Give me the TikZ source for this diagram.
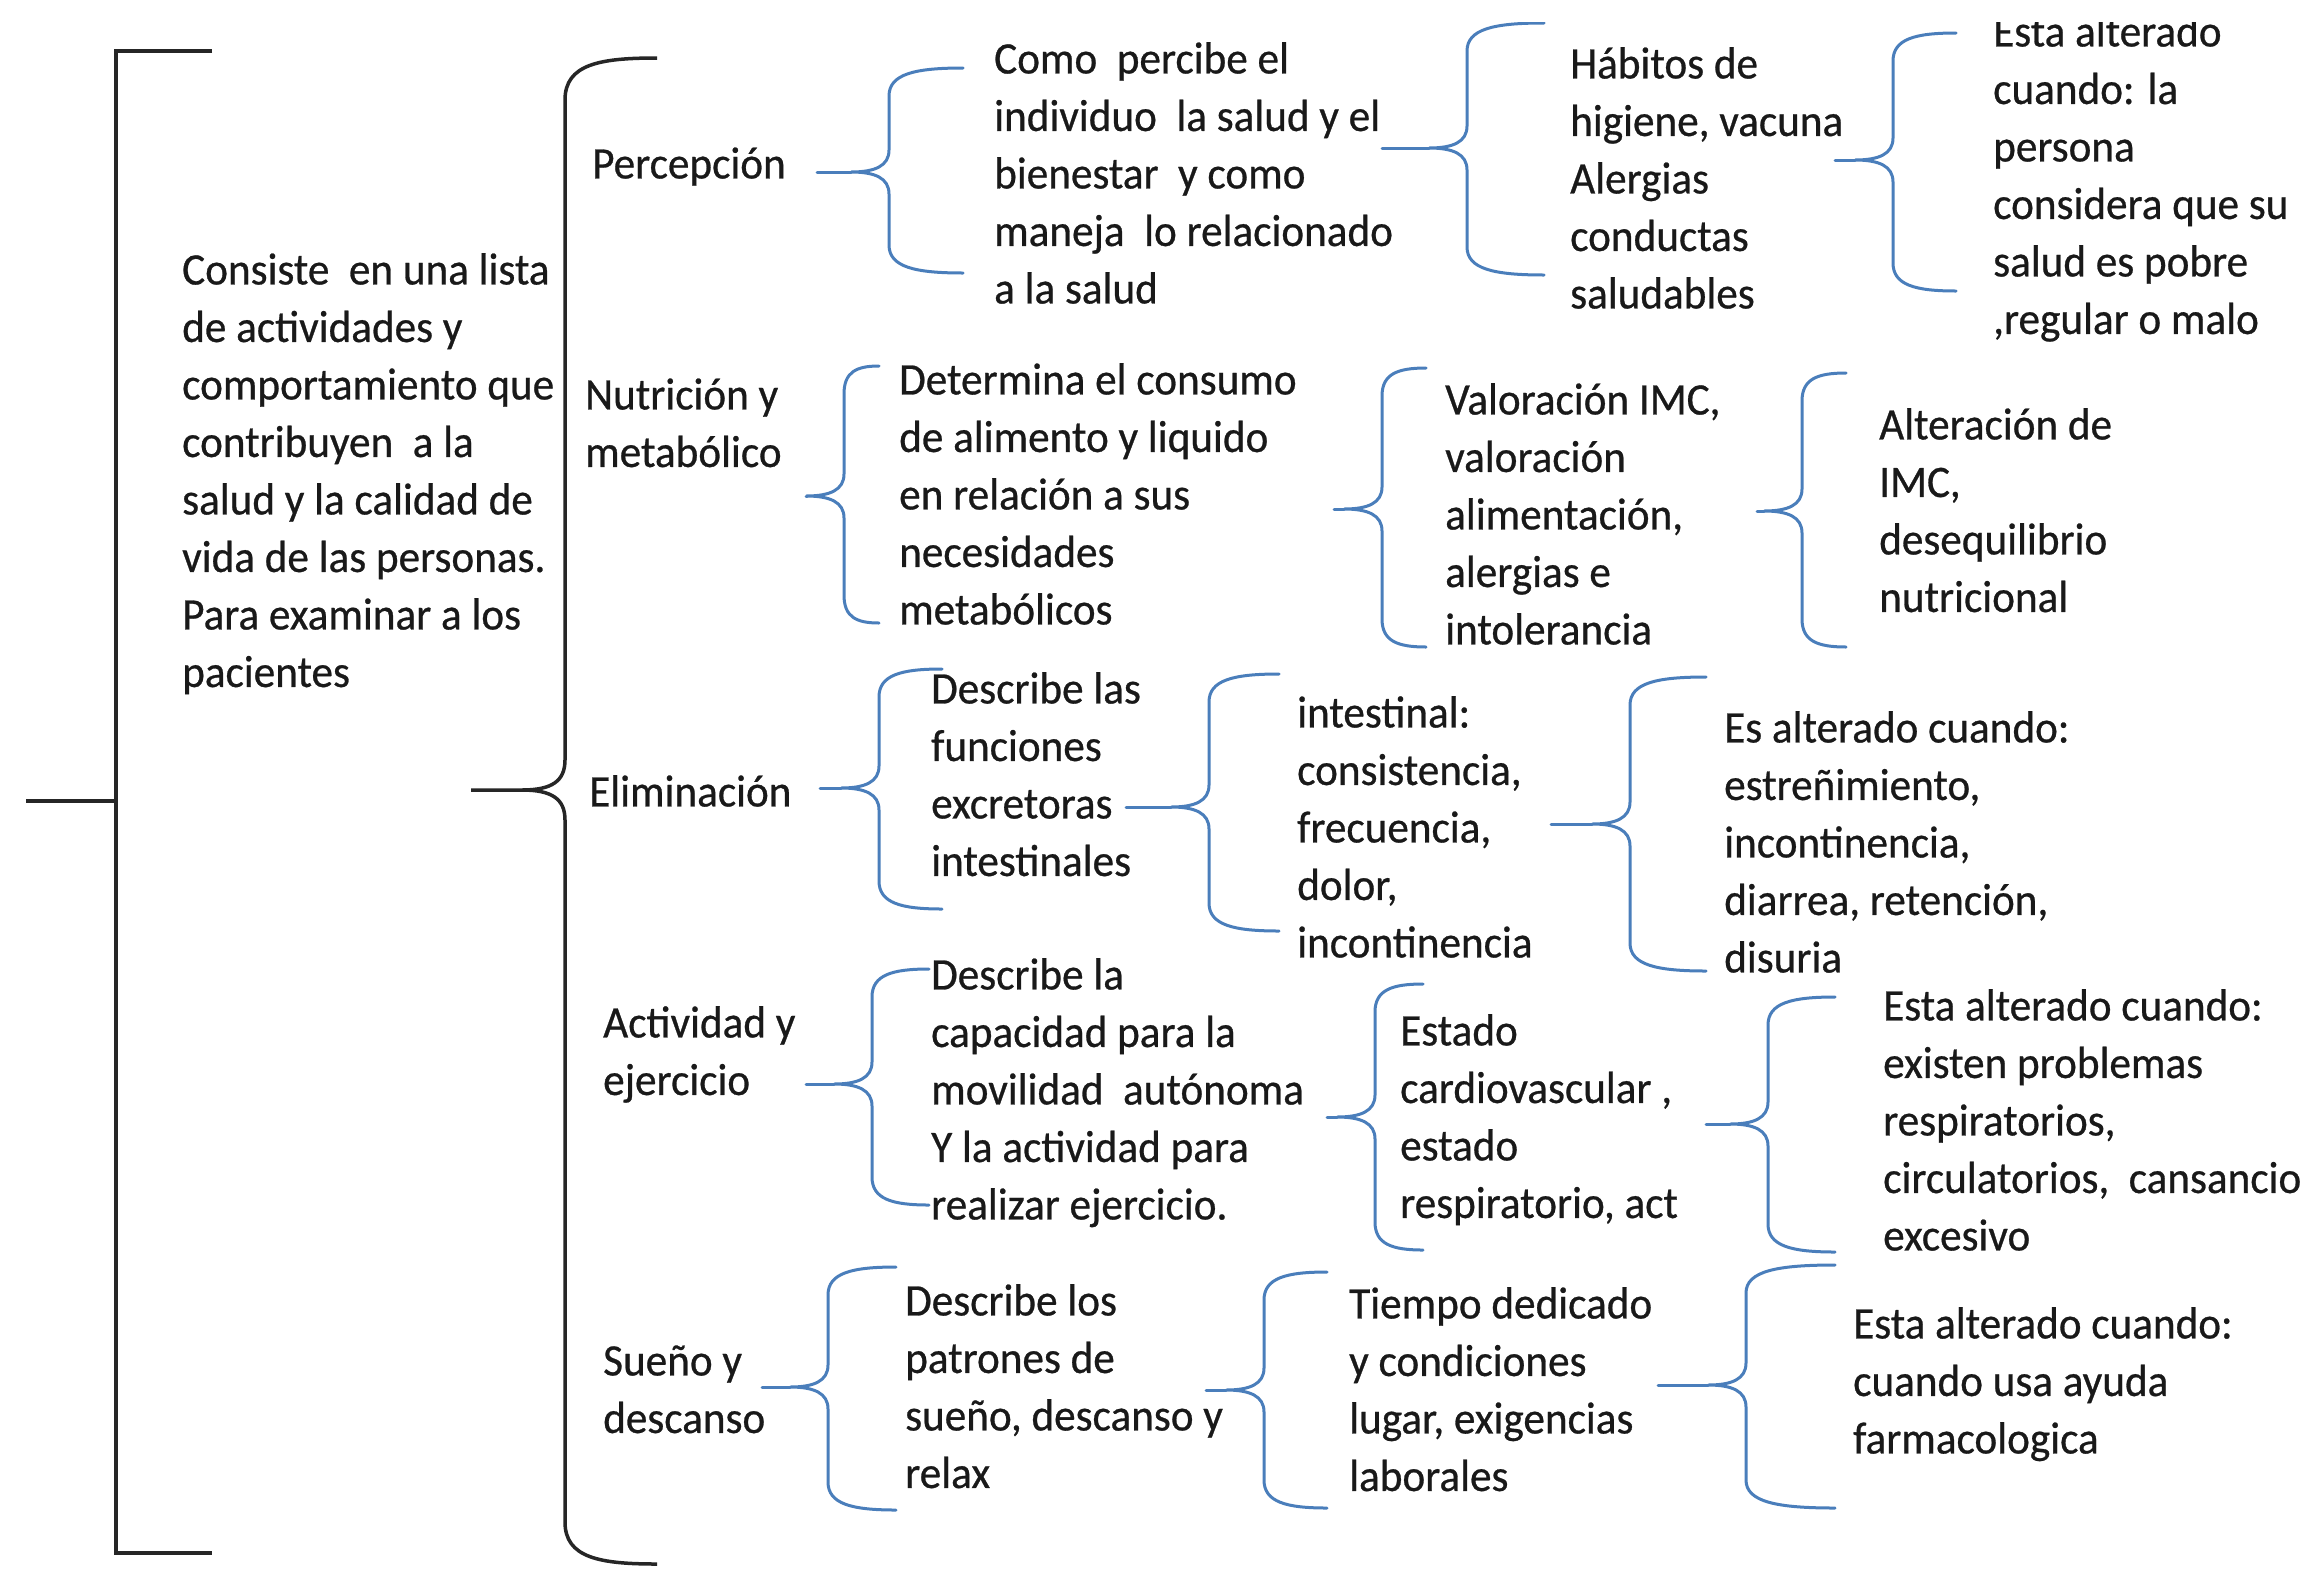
\documentclass[tikz,border=0pt]{standalone}
\usepackage{fontspec}
\setmainfont{Carlito}[FakeStretch=0.96,FakeBold=0.6]
\definecolor{braceblue}{HTML}{4A7EBB}
\newcommand\tnode[4]{\node[tx] (#1) at (#2,{#3-27}) {\strut #4};}
% #1 tip name, #2 spine x, #3 top y, #4 bottom y, #5 arm end x, #6 tip y
\newcommand\curlyb[6]{%
  \coordinate (#1) at ({#2-38},#6);
  \draw[bl] (#5,#3) .. controls ({#2+0.35*(#5-#2)},#3) and (#2,{#3+6}) .. (#2,{#3+28})
    -- (#2,{#6-22}) .. controls (#2,{#6-6}) and ({#2-14},#6) .. (#1)
    .. controls ({#2-14},#6) and (#2,{#6+6}) .. (#2,{#6+22})
    -- (#2,{#4-28}) .. controls (#2,{#4-6}) and ({#2+0.35*(#5-#2)},#4) .. (#5,#4);
}
\begin{document}
\begin{tikzpicture}[x=1pt,y=-1pt,
  tx/.style={anchor=north west,inner sep=0pt,align=left,font=\fontsize{45}{57.5}\selectfont,text=black!90},
  bl/.style={draw=braceblue,line width=3pt,line cap=round},
  blk/.style={draw=black!85,line width=3.5pt}]
\useasboundingbox (0,0) rectangle (2308,1572);
\fill[white] (0,0) rectangle (2308,1572);
\clip (0,22) rectangle (2308,1572);

% ---- left black bracket
\coordinate (bk1) at (212,51);
\coordinate (bk2) at (116,51);
\coordinate (bk3) at (116,1553);
\coordinate (bk4) at (212,1553);
\coordinate (bkm) at (116,801);
\coordinate (bks) at (26,801);
\draw[blk] (bk1) -- (bk2) -- (bk3) -- (bk4);
\draw[blk] (bks) -- (bkm);

% ---- main text
\tnode{main}{182}{271}{Consiste~ en una lista\\de actividades y\\comportamiento que\\contribuyen~ a la\\salud y la calidad de\\vida de las personas.\\Para examinar a los\\pacientes}

% ---- black curly brace
\coordinate (btip) at (471,790);
\draw[blk] (657,58) .. controls (600,58) and (565,64) .. (565,100)
  -- (565,760) .. controls (565,781) and (552,790) .. (522,790) -- (btip)
  -- (522,790) .. controls (552,790) and (565,799) .. (565,820)
  -- (565,1522) .. controls (565,1558) and (600,1564) .. (657,1564);

% ---- level 1 labels
\tnode{L1}{592}{165}{Percepción}
\tnode{L2}{585}{396}{Nutrición y\\metabólico}
\tnode{L3}{589}{793}{Eliminación}
\tnode{L4}{603}{1024}{Actividad y\\ejercicio}
\tnode{L5}{603}{1362}{Sueño y\\descanso}

% ---- level 2
\tnode{C1}{994}{60}{Como~ percibe el\\individuo~ la salud y el\\bienestar~ y como\\maneja~ lo relacionado\\a la salud}
\tnode{C2}{899}{381}{Determina el consumo\\de alimento y liquido\\en relación a sus\\necesidades\\metabólicos}
\tnode{C3}{931}{690}{Describe las\\funciones\\excretoras\\intestinales}
\tnode{C4}{931}{976}{Describe la\\capacidad para la\\movilidad~ autónoma\\Y la actividad para\\realizar ejercicio.}
\tnode{C5}{905}{1302}{Describe los\\patrones de\\sueño, descanso y\\relax}

% ---- level 3
\tnode{D1}{1570}{65}{Hábitos de\\higiene, vacuna\\Alergias\\conductas\\saludables}
\tnode{D2}{1445}{401}{Valoración IMC,\\valoración\\alimentación,\\alergias e\\intolerancia}
\tnode{D3}{1297}{714}{intestinal:\\consistencia,\\frecuencia,\\dolor,\\incontinencia}
\tnode{D4}{1400}{1032}{Estado\\cardiovascular ,\\estado\\respiratorio, act}
\tnode{D5}{1349}{1305}{Tiempo dedicado\\y condiciones\\lugar, exigencias\\laborales}

% ---- level 4
\tnode{E1}{1993}{33}{Esta alterado\\cuando: la\\persona\\considera que su\\salud es pobre\\,regular o malo}
\tnode{E2}{1879}{426}{Alteración de\\IMC,\\desequilibrio\\nutricional}
\tnode{E3}{1724}{729}{Es alterado cuando:\\estreñimiento,\\incontinencia,\\diarrea, retención,\\disuria}
\tnode{E4}{1883}{1007}{Esta alterado cuando:\\existen problemas\\respiratorios,\\circulatorios,~ cansancio\\excesivo}
\tnode{E5}{1853}{1325}{Esta alterado cuando:\\cuando usa ayuda\\farmacologica}

% ---- blue braces (tip name, spine x, top y, bottom y, arm x, tip y)
\curlyb{tL1}{889}{68}{273}{963}{172}
\curlyb{tC1}{1467}{23}{275}{1544}{148}
\curlyb{tD1}{1893}{33}{291}{1956}{160}
\curlyb{tL2}{844}{366}{623}{879}{496}
\curlyb{tC2}{1382}{368}{647}{1426}{509}
\curlyb{tD2}{1802}{373}{647}{1846}{511}
\curlyb{tL3}{879}{669}{909}{942}{788}
\curlyb{tC3}{1209}{674}{931}{1279}{807}
\curlyb{tD3}{1630}{677}{971}{1706}{824}
\curlyb{tL4}{872}{969}{1205}{929}{1084}
\curlyb{tC4}{1375}{984}{1250}{1423}{1117}
\curlyb{tD4}{1768}{997}{1252}{1835}{1124}
\curlyb{tL5}{828}{1267}{1510}{896}{1387}
\curlyb{tC5}{1264}{1272}{1508}{1327}{1390}
\curlyb{tD5}{1746}{1265}{1508}{1835}{1385}

% ---- stubs
\coordinate (sL1) at (817,172);
\coordinate (sC1) at (1382,148);
\coordinate (sD1) at (1835,160);
\coordinate (sL2) at (807,496);
\coordinate (sC2) at (1334,509);
\coordinate (sD2) at (1757,511);
\coordinate (sL3) at (820,788);
\coordinate (sC3) at (1126,807);
\coordinate (sD3) at (1551,824);
\coordinate (sL4) at (806,1084);
\coordinate (sC4) at (1327,1117);
\coordinate (sD4) at (1706,1124);
\coordinate (sL5) at (762,1387);
\coordinate (sC5) at (1206,1390);
\coordinate (sD5) at (1658,1385);
\foreach \n in {L1,C1,D1,L2,C2,D2,L3,C3,D3,L4,C4,D4,L5,C5,D5}
  \draw[bl] (s\n) -- (t\n);
\end{tikzpicture}
\end{document}
